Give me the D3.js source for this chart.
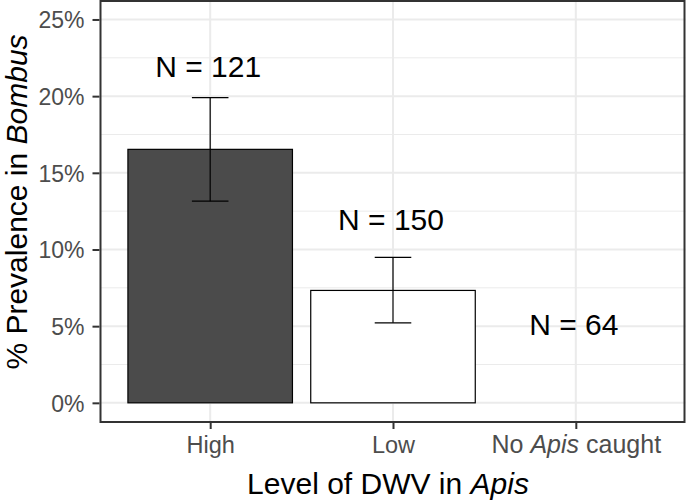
<!DOCTYPE html>
<html><head><meta charset="utf-8">
<script src="https://cdn.jsdelivr.net/npm/d3@7"></script>
<style>body{margin:0;background:#fff}svg{display:block}text{font-family:"Liberation Sans",Arial,Helvetica,sans-serif}</style>
</head><body>
<script>
const categories = ["High", "Low", "No Apis caught"];
const prevalence = [16.53, 7.33, 0];
const errLower = [13.15, 5.22, null];
const errUpper = [19.9, 9.48, null];
const nLabels = ["N = 121", "N = 150", "N = 64"];
const labelY = [21.95, 11.98, 5.1];
const barFills = ["#4b4b4b", "#ffffff", "#ffffff"];
const yTicks = [0, 5, 10, 15, 20, 25];
const yMinor = [2.5, 7.5, 12.5, 17.5, 22.5];

const W = 686, H = 501;
const px0 = 100.5, px1 = 685.5, py0 = 0.3, py1 = 422;
const svg = d3.select("body").append("svg").attr("width", W).attr("height", H);

const x = d3.scalePoint().domain(categories).range([px0, px1]).padding(0.6);
const y = d3.scaleLinear().domain([-1.25, 26.25]).range([py1, py0]);
const step = x.step();

// grid
const g = svg.append("g");
g.selectAll(".minor").data(yMinor).join("line")
  .attr("x1", px0).attr("x2", px1).attr("y1", d => y(d)).attr("y2", d => y(d))
  .attr("stroke", "#ebebeb").attr("stroke-width", 1);
g.selectAll(".major").data(yTicks).join("line")
  .attr("x1", px0).attr("x2", px1).attr("y1", d => y(d)).attr("y2", d => y(d))
  .attr("stroke", "#ebebeb").attr("stroke-width", 2);
g.selectAll(".vmajor").data(categories).join("line")
  .attr("x1", d => x(d)).attr("x2", d => x(d)).attr("y1", py0).attr("y2", py1)
  .attr("stroke", "#ebebeb").attr("stroke-width", 2);

// bars
const idx = d3.range(categories.length);
svg.append("g").selectAll("rect").data(idx.filter(i => prevalence[i] > 0)).join("rect")
  .attr("x", i => x(categories[i]) - step * 0.45)
  .attr("width", step * 0.9)
  .attr("y", i => y(prevalence[i]))
  .attr("height", i => y(0) - y(prevalence[i]))
  .attr("fill", i => barFills[i]).attr("stroke", "#000").attr("stroke-width", 1.2);

// error bars
const eb = svg.append("g").attr("stroke", "#000").attr("stroke-width", 1.2);
idx.filter(i => errUpper[i] != null).forEach(i => {
  const cx = x(categories[i]), hw = step * 0.1;
  eb.append("line").attr("x1", cx).attr("x2", cx).attr("y1", y(errLower[i])).attr("y2", y(errUpper[i]));
  eb.append("line").attr("x1", cx - hw).attr("x2", cx + hw).attr("y1", y(errLower[i])).attr("y2", y(errLower[i]));
  eb.append("line").attr("x1", cx - hw).attr("x2", cx + hw).attr("y1", y(errUpper[i])).attr("y2", y(errUpper[i]));
});

// N labels
svg.append("g").selectAll("text").data(idx).join("text")
  .attr("x", i => x(categories[i]) - 2)
  .attr("y", i => y(labelY[i]) + 30 * 0.358)
  .attr("text-anchor", "middle").attr("font-size", 30).attr("fill", "#000")
  .text(i => nLabels[i]);

// panel border
svg.append("rect").attr("x", px0).attr("y", py0 + 0.7).attr("width", px1 - px0 - 1).attr("height", py1 - py0 - 0.7)
  .attr("fill", "none").attr("stroke", "#333333").attr("stroke-width", 2);

// y axis
const yAxis = d3.axisLeft(y).tickValues(yTicks).tickSize(7).tickPadding(8).tickFormat(d => d + "%");
const ya = svg.append("g").attr("transform", `translate(${px0 - 1},0)`).call(yAxis);
ya.select(".domain").remove();
ya.selectAll(".tick line").attr("stroke", "#333333").attr("stroke-width", 2);
ya.selectAll(".tick text").attr("font-size", 23).attr("fill", "#4d4d4d").attr("dy", "0.36em")
  .attr("font-family", "Liberation Sans, Arial, sans-serif");

// x axis
const xAxis = d3.axisBottom(x).tickSize(7).tickPadding(5).tickFormat("");
const xa = svg.append("g").attr("transform", `translate(0,${py1})`).call(xAxis);
xa.select(".domain").remove();
xa.selectAll(".tick line").attr("stroke", "#333333").attr("stroke-width", 2);
xa.selectAll(".tick").each(function(d) {
  const t = d3.select(this).append("text").attr("y", 31.3).attr("text-anchor", "middle")
    .attr("font-size", 23.5).attr("fill", "#4d4d4d").attr("font-family", "Liberation Sans, Arial, sans-serif");
  if (d === "No Apis caught") {
    t.attr("font-size", 25);
    t.append("tspan").text("No ");
    t.append("tspan").attr("font-style", "italic").text("Apis");
    t.append("tspan").text(" caught");
  } else t.text(d);
});

// axis titles
const xt = svg.append("text").attr("x", 388).attr("y", 494)
  .attr("text-anchor", "middle").attr("font-size", 30).attr("fill", "#000");
xt.append("tspan").text("Level of DWV in ");
xt.append("tspan").attr("font-style", "italic").text("Apis");

const yt = svg.append("text").attr("transform", `translate(27,202) rotate(-90)`)
  .attr("text-anchor", "middle").attr("font-size", 30).attr("fill", "#000");
yt.append("tspan").text("% Prevalence in ");
yt.append("tspan").attr("font-style", "italic").text("Bombus");
</script>
</body></html>
